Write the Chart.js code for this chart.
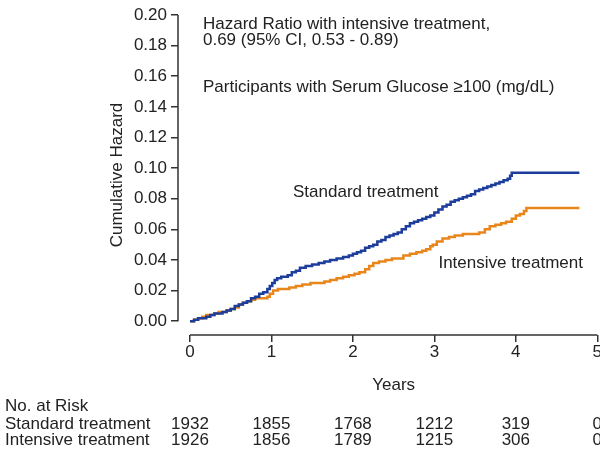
<!DOCTYPE html>
<html>
<head>
<meta charset="utf-8">
<script src="https://cdn.jsdelivr.net/npm/chart.js@4/dist/chart.umd.min.js"></script>
<style>
  html, body { margin: 0; padding: 0; background: #fff; overflow: hidden; }
  #wrap { width: 600px; height: 450px; overflow: hidden; }
</style>
</head>
<body>
<div id="wrap"><canvas id="km" width="602" height="450"></canvas></div>
<script>
// axis ticks
const yearTicks = [0, 1, 2, 3, 4, 5];
const hazardTicks = [0, 0.02, 0.04, 0.06, 0.08, 0.10, 0.12, 0.14, 0.16, 0.18, 0.20];

// cumulative hazard, standard treatment (step times in years)
const standardYears = [0, 0.05, 0.1, 0.15, 0.2, 0.25, 0.3, 0.35, 0.4, 0.45, 0.5, 0.55, 0.6, 0.65, 0.7, 0.75,
  0.8, 0.85, 0.9, 0.95, 0.98, 1.01, 1.04, 1.07, 1.12, 1.2, 1.25, 1.3, 1.35, 1.42, 1.5, 1.58, 1.65, 1.72,
  1.8, 1.88, 1.95, 2.0, 2.05, 2.1, 2.15, 2.2, 2.25, 2.3, 2.35, 2.4, 2.45, 2.5, 2.55, 2.6, 2.65, 2.7,
  2.75, 2.8, 2.85, 2.9, 2.95, 3.0, 3.05, 3.1, 3.15, 3.2, 3.25, 3.3, 3.35, 3.4, 3.45, 3.5, 3.55, 3.6,
  3.65, 3.7, 3.75, 3.8, 3.85, 3.9, 3.93, 3.95, 4.78];
const standardHazard = [0, 0.001, 0.002, 0.002, 0.003, 0.004, 0.005, 0.005, 0.006, 0.007, 0.008, 0.010, 0.011, 0.012, 0.013, 0.015,
  0.016, 0.018, 0.019, 0.021, 0.023, 0.025, 0.027, 0.028, 0.029, 0.030, 0.032, 0.033, 0.035, 0.036, 0.037, 0.038, 0.039, 0.040,
  0.041, 0.042, 0.043, 0.044, 0.045, 0.046, 0.048, 0.049, 0.050, 0.052, 0.053, 0.055, 0.056, 0.057, 0.058, 0.060, 0.062, 0.064,
  0.065, 0.066, 0.067, 0.068, 0.069, 0.071, 0.073, 0.075, 0.076, 0.078, 0.079, 0.080, 0.081, 0.082, 0.083, 0.085, 0.086, 0.087,
  0.088, 0.089, 0.090, 0.091, 0.092, 0.093, 0.095, 0.097, 0.097];

// cumulative hazard, intensive treatment
const intensiveYears = [0, 0.05, 0.1, 0.15, 0.2, 0.25, 0.3, 0.35, 0.4, 0.45, 0.5, 0.55, 0.6, 0.65, 0.7, 0.75,
  0.8, 0.88, 0.95, 0.98, 1.02, 1.08, 1.15, 1.22, 1.3, 1.38, 1.48, 1.58, 1.65, 1.72, 1.8, 1.88, 1.95,
  2.02, 2.08, 2.15, 2.2, 2.25, 2.32, 2.4, 2.48, 2.55, 2.62, 2.7, 2.78, 2.85, 2.9, 2.95, 2.98, 3.03,
  3.1, 3.18, 3.25, 3.35, 3.45, 3.55, 3.62, 3.68, 3.75, 3.82, 3.88, 3.95, 4.0, 4.05, 4.1, 4.13, 4.78];
const intensiveHazard = [0, 0.001, 0.002, 0.003, 0.004, 0.004, 0.005, 0.006, 0.006, 0.007, 0.008, 0.009, 0.011, 0.012, 0.013, 0.014,
  0.015, 0.015, 0.016, 0.018, 0.020, 0.021, 0.021, 0.022, 0.023, 0.024, 0.025, 0.025, 0.026, 0.027, 0.028, 0.029, 0.030,
  0.031, 0.032, 0.034, 0.036, 0.038, 0.039, 0.040, 0.041, 0.041, 0.043, 0.044, 0.045, 0.046, 0.047, 0.049, 0.050, 0.052,
  0.054, 0.055, 0.056, 0.057, 0.057, 0.058, 0.060, 0.062, 0.063, 0.064, 0.065, 0.067, 0.069, 0.070, 0.072, 0.074, 0.074];

// numbers at risk
const riskLabels = ['Standard treatment', 'Intensive treatment'];
const standardAtRisk = [1932, 1855, 1768, 1212, 319, 0];
const intensiveAtRisk = [1926, 1856, 1789, 1215, 306, 0];

const FONT = '"Liberation Sans", Arial, Helvetica, sans-serif';
const TEXT = '#222';
const AXIS = '#333';

Chart.defaults.font.family = FONT;
Chart.defaults.font.size = 17;
Chart.defaults.color = TEXT;

const toPoints = (xs, ys) => xs.map((x, i) => ({ x: x, y: ys[i] }));

// R-style detached axes, annotations and the risk table
const extras = {
  id: 'extras',
  afterDraw(chart) {
    const { ctx, chartArea } = chart;
    const x = chart.scales.x, y = chart.scales.y;
    ctx.save();
    ctx.strokeStyle = AXIS;
    ctx.lineWidth = 1.5;
    ctx.beginPath();
    ctx.moveTo(x.getPixelForValue(yearTicks[0]), chartArea.bottom);
    ctx.lineTo(x.getPixelForValue(yearTicks[yearTicks.length - 1]), chartArea.bottom);
    ctx.moveTo(chartArea.left, y.getPixelForValue(hazardTicks[0]));
    ctx.lineTo(chartArea.left, y.getPixelForValue(hazardTicks[hazardTicks.length - 1]));
    ctx.stroke();

    ctx.fillStyle = TEXT;
    ctx.font = '17px ' + FONT;
    ctx.textBaseline = 'alphabetic';
    ctx.textAlign = 'left';
    const tx = x.getPixelForValue(0) + 13;
    ctx.fillText('Hazard Ratio with intensive treatment,', tx, chartArea.top + 14);
    ctx.fillText('0.69 (95% CI, 0.53 - 0.89)', tx, chartArea.top + 30);
    ctx.fillText('Participants with Serum Glucose \u2265100 (mg/dL)', tx, chartArea.top + 77);

    ctx.fillText('Standard treatment', x.getPixelForValue(1.265), y.getPixelForValue(0.081));
    ctx.fillText('Intensive treatment', x.getPixelForValue(3.05), y.getPixelForValue(0.035));

    ctx.textAlign = 'center';
    const mid = (x.getPixelForValue(yearTicks[0]) + x.getPixelForValue(yearTicks[yearTicks.length - 1])) / 2;
    ctx.fillText('Years', mid, 390);

    // risk table
    ctx.textAlign = 'left';
    ctx.fillText('No. at Risk', 5, 411);
    ctx.fillText(riskLabels[0], 5, 429);
    ctx.fillText(riskLabels[1], 5, 445);
    ctx.textAlign = 'center';
    yearTicks.forEach((t, i) => {
      const px = x.getPixelForValue(t);
      ctx.fillText(String(standardAtRisk[i]), px, 429);
      ctx.fillText(String(intensiveAtRisk[i]), px, 445);
    });
    ctx.restore();
  }
};

new Chart(document.getElementById('km'), {
  type: 'line',
  data: {
    datasets: [
      {
        label: 'Standard treatment',
        data: toPoints(standardYears, standardHazard),
        borderColor: '#1c3d9c',
        borderWidth: 2.5,
        stepped: true,
        pointRadius: 0,
        fill: false
      },
      {
        label: 'Intensive treatment',
        data: toPoints(intensiveYears, intensiveHazard),
        borderColor: '#e8861c',
        borderWidth: 2.5,
        stepped: true,
        pointRadius: 0,
        fill: false
      }
    ]
  },
  options: {
    responsive: false,
    animation: false,
    layout: { padding: { left: 100, top: 15, right: 0, bottom: 0 } },
    plugins: {
      legend: { display: false },
      tooltip: { enabled: false }
    },
    scales: {
      x: {
        type: 'linear',
        min: -0.147,
        max: 5,
        afterBuildTicks: s => { s.ticks = yearTicks.map(v => ({ value: v })); },
        afterFit: s => { s.height = 115; },
        ticks: { padding: 0, color: TEXT, callback: v => String(v) },
        grid: { drawOnChartArea: false, drawTicks: true, tickLength: 7, color: AXIS, lineWidth: 1.5 },
        border: { display: false }
      },
      y: {
        min: -0.009,
        max: 0.2,
        afterBuildTicks: s => { s.ticks = hazardTicks.map(v => ({ value: v })); },
        afterFit: s => { s.width = 78; },
        ticks: { padding: 4, color: TEXT, callback: v => v.toFixed(2) },
        grid: { drawOnChartArea: false, drawTicks: true, tickLength: 7, color: AXIS, lineWidth: 1.5 },
        border: { display: false },
        title: { display: true, text: 'Cumulative Hazard', padding: { top: 7, bottom: 0 }, color: TEXT }
      }
    }
  },
  plugins: [extras]
});
</script>
</body>
</html>
